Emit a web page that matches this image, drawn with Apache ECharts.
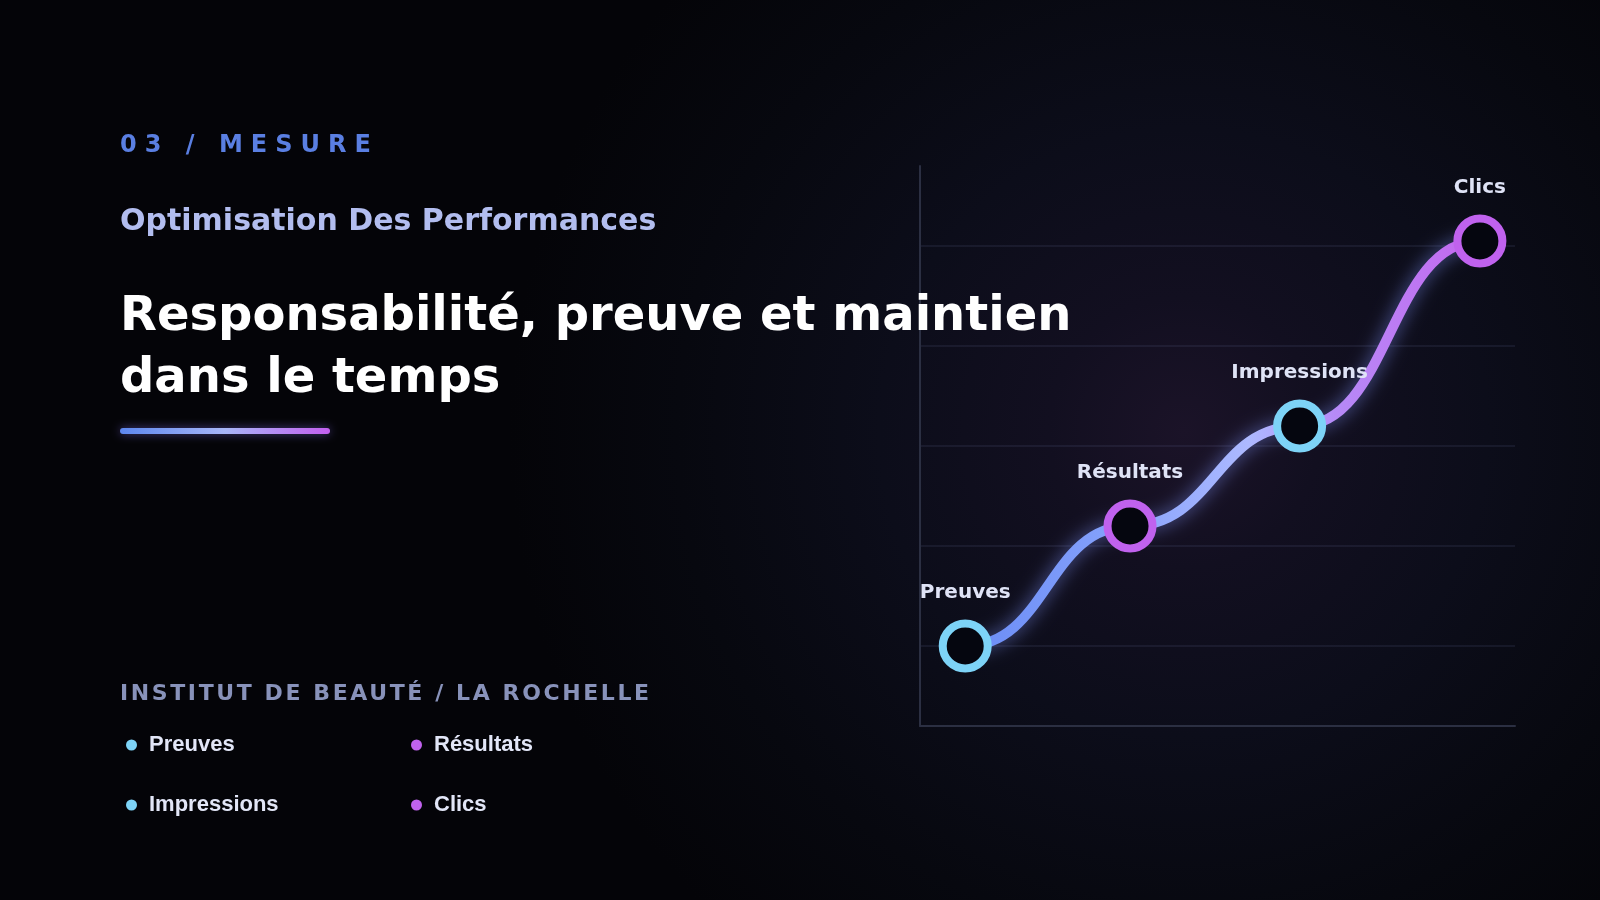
<!DOCTYPE html>
<html>
<head>
<meta charset="utf-8">
<script src="https://cdn.jsdelivr.net/npm/echarts@6/dist/echarts.min.js"></script>
<style>
  html, body { margin: 0; padding: 0; width: 1600px; height: 900px; overflow: hidden; background: #040408; }
  #chart { position: absolute; left: 0; top: 0; width: 1600px; height: 900px; }
  .txt { position: absolute; font-family: 'DejaVu Sans', sans-serif; font-weight: bold; white-space: nowrap; }
  #kicker { left: 120px; top: 132px; font-size: 24px; line-height: 24px; letter-spacing: 8px; color: #5a7fe2; }
  #sub { left: 120px; top: 205px; font-size: 30px; line-height: 30px; color: #b2bdef; }
  #title { left: 120px; top: 282px; font-size: 48px; line-height: 62px; color: #ffffff; white-space: normal; width: 960px; }
  #place { left: 120px; top: 682px; font-size: 22px; line-height: 22px; letter-spacing: 2.6px; color: #8892ba; }
</style>
</head>
<body>
<div id="chart"></div>
<div class="txt" id="kicker">03 / MESURE</div>
<div class="txt" id="sub">Optimisation Des Performances</div>
<div class="txt" id="title">Responsabilité, preuve et maintien dans le temps</div>
<div class="txt" id="place">INSTITUT DE BEAUTÉ / LA ROCHELLE</div>
<script>
// ---- data ----
const categories = ['Preuves', 'Résultats', 'Impressions', 'Clics'];
const xValues = [7.6, 35.3, 63.8, 94.1];
const yValues = [20, 44, 64, 101];
const ringColors = ['#7dd3f7', '#c062ee', '#7dd3f7', '#c062ee'];

const chart = echarts.init(document.getElementById('chart'), null, { renderer: 'canvas' });

const lineStops = [
  { offset: 0, color: '#6a8cf6' },
  { offset: 0.3, color: '#86a2fb' },
  { offset: 0.55, color: '#adb9ff' },
  { offset: 0.72, color: '#b68af7' },
  { offset: 1, color: '#c467ef' }
];

const scatterSeries = categories.map((name, i) => ({
  name: name,
  type: 'scatter',
  z: 5,
  data: [[xValues[i], yValues[i]]],
  symbol: 'circle',
  symbolSize: 45,
  itemStyle: { color: '#05060f', borderColor: ringColors[i], borderWidth: 8, opacity: 1 },
  label: {
    show: true,
    position: 'top',
    distance: 17,
    formatter: '{a}',
    color: '#dfe3f6',
    fontFamily: 'DejaVu Sans',
    fontWeight: 'bold',
    fontSize: 20
  },
  emphasis: { disabled: true },
  silent: true
}));

// legend laid out in two columns, two rows
const legendCols = [126, 411];
const legendRows = [734, 794];
const legends = categories.map((n, i) => ({
  left: legendCols[i % 2],
  top: legendRows[Math.floor(i / 2)],
  padding: 0,
  orient: 'horizontal',
  icon: 'circle', itemWidth: 11, itemHeight: 11,
  selectedMode: false,
  data: [{ name: n, itemStyle: { color: ringColors[i], borderWidth: 0 } }],
  textStyle: {
    color: '#e2e6f7', fontFamily: 'Liberation Sans, Arial, sans-serif', fontWeight: 'bold', fontSize: 22,
    padding: [0, 0, 0, 7]
  }
}));

const option = {
  animation: false,
  backgroundColor: {
    type: 'radial', x: 0.74, y: 0.48, r: 0.75,
    colorStops: [
      { offset: 0, color: '#1b1328' },
      { offset: 0.2, color: '#120f20' },
      { offset: 0.45, color: '#0c0d1a' },
      { offset: 0.75, color: '#07080f' },
      { offset: 1, color: '#040408' }
    ]
  },
  grid: { left: 920, right: 85, top: 166, bottom: 174, containLabel: false },
  xAxis: {
    type: 'value', min: 0, max: 100,
    axisLine: { show: true, lineStyle: { color: '#2b2f42', width: 2 } },
    axisTick: { show: false }, axisLabel: { show: false }, splitLine: { show: false }
  },
  yAxis: {
    type: 'value', min: 4, max: 116,
    axisLine: { show: true, lineStyle: { color: '#2b2f42', width: 2 } },
    axisTick: { show: false }, axisLabel: { show: false },
    splitLine: { show: true, showMinLine: false, showMaxLine: false, lineStyle: { color: 'rgba(120,130,175,0.16)', width: 1.5 } }
  },
  legend: legends,
  graphic: [
    {
      type: 'rect', left: 120, top: 428, z: 10,
      shape: { width: 210, height: 6, r: 3 },
      style: {
        fill: { type: 'linear', x: 0, y: 0, x2: 1, y2: 0, colorStops: [
          { offset: 0, color: '#5d87ef' }, { offset: 0.5, color: '#a8b6f8' }, { offset: 1, color: '#c35ff0' }
        ] },
        shadowBlur: 10, shadowColor: 'rgba(140,120,255,0.5)'
      }
    }
  ],
  series: [
    {
      type: 'custom',
      name: 'courbe',
      coordinateSystem: 'cartesian2d',
      data: [[xValues[0], yValues[0]]],
      z: 3, silent: true, clip: false,
      renderItem: function (params, api) {
        const pts = xValues.map((x, i) => api.coord([x, yValues[i]]));
        const grad = { type: 'linear', global: true, x: pts[0][0], y: 0, x2: pts[pts.length - 1][0], y2: 0, colorStops: lineStops };
        const children = [];
        for (let i = 1; i < pts.length; i++) {
          const a = pts[i - 1], b = pts[i];
          const mx = (b[0] - a[0]) * 0.5;
          children.push({
            type: 'bezierCurve',
            shape: { x1: a[0], y1: a[1], x2: b[0], y2: b[1], cpx1: a[0] + mx, cpy1: a[1], cpx2: b[0] - mx, cpy2: b[1] },
            style: { stroke: grad, fill: 'none', lineWidth: 10, lineCap: 'round', shadowBlur: 18, shadowColor: 'rgba(130,150,255,0.6)' }
          });
        }
        return { type: 'group', children: children };
      }
    }
  ].concat(scatterSeries)
};

chart.setOption(option);
</script>
</body>
</html>
